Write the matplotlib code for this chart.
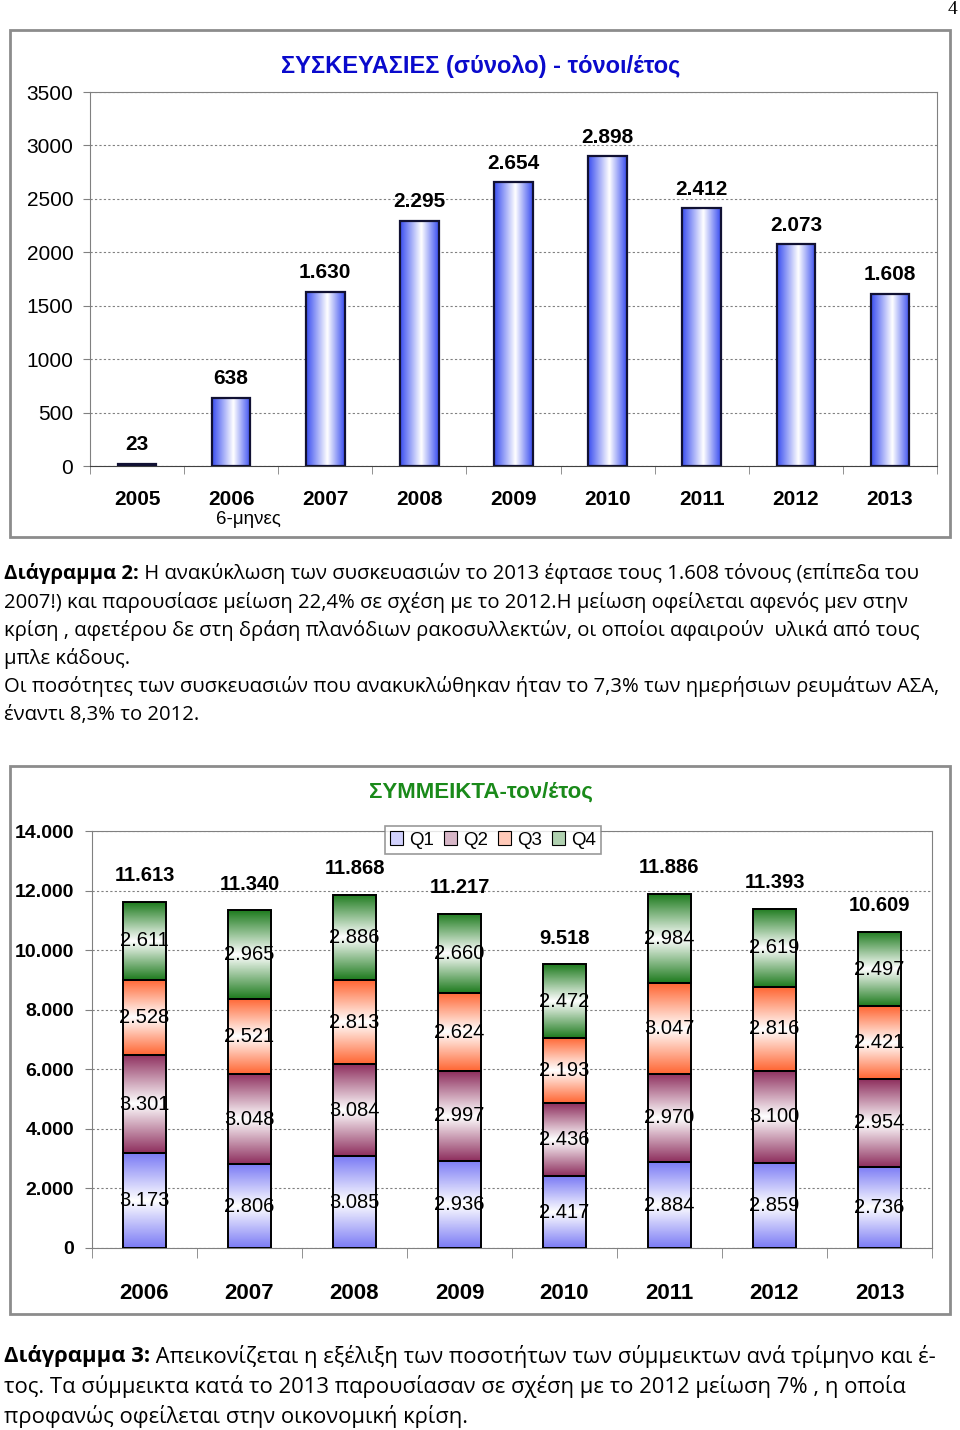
import numpy as np
import matplotlib
matplotlib.use("Agg")
import matplotlib.pyplot as plt
from matplotlib.colors import LinearSegmentedColormap
from matplotlib.patches import Rectangle, Patch

# --- chart 2 (packaging, tons/year) ---
pack_years = ["2005", "2006", "2007", "2008", "2009", "2010", "2011", "2012", "2013"]
pack_tons = [23, 638, 1630, 2295, 2654, 2898, 2412, 2073, 1608]

# --- chart 3 (mixed waste per quarter, tons/year) ---
mixed_years = ["2006", "2007", "2008", "2009", "2010", "2011", "2012", "2013"]
q1 = [3173, 2806, 3085, 2936, 2417, 2884, 2859, 2736]
q2 = [3301, 3048, 3084, 2997, 2436, 2970, 3100, 2954]
q3 = [2528, 2521, 2813, 2624, 2193, 3047, 2816, 2421]
q4 = [2611, 2965, 2886, 2660, 2472, 2984, 2619, 2497]
mixed_totals = [11613, 11340, 11868, 11217, 9518, 11886, 11393, 10609]
quarter_names = ["Q1", "Q2", "Q3", "Q4"]
quarter_colors = ["#7b7bf5", "#8e2f5e", "#ff6633", "#1e7b1e"]

caption2 = [
    ("Διάγραμμα 2:", " Η ανακύκλωση των συσκευασιών το 2013 έφτασε τους 1.608 τόνους (επίπεδα του"),
    ("", "2007!) και παρουσίασε μείωση 22,4% σε σχέση με το 2012.Η μείωση οφείλεται αφενός μεν στην"),
    ("", "κρίση , αφετέρου δε στη δράση πλανόδιων ρακοσυλλεκτών, οι οποίοι αφαιρούν  υλικά από τους"),
    ("", "μπλε κάδους."),
    ("", "Οι ποσότητες των συσκευασιών που ανακυκλώθηκαν ήταν το 7,3% των ημερήσιων ρευμάτων ΑΣΑ,"),
    ("", "έναντι 8,3% το 2012."),
]
caption3 = [
    ("Διάγραμμα 3:", " Απεικονίζεται η εξέλιξη των ποσοτήτων των σύμμεικτων ανά τρίμηνο και έ-"),
    ("", "τος. Τα σύμμεικτα κατά το 2013 παρουσίασαν σε σχέση με το 2012 μείωση 7% , η οποία"),
    ("", "προφανώς οφείλεται στην οικονομική κρίση."),
]

W, H = 960, 1430
ARIAL = ["Liberation Sans", "DejaVu Sans"]
BODY = ["Open Sans", "Noto Sans", "DejaVu Sans"]


def fx(px):
    return px / W


def fy(py):
    return 1 - py / H


def fmt(v):
    return f"{v:,}".replace(",", ".")


def gradient_fill(ax, bar, color, vertical, mid=0.5):
    # paint a dark-white-dark gradient inside the bar rectangle
    x0, y0 = bar.get_x(), bar.get_y()
    w, h = bar.get_width(), bar.get_height()
    cmap = LinearSegmentedColormap.from_list("g", [(0, color), (mid, "white"), (1, color)])
    ramp = np.linspace(0, 1, 200)
    arr = ramp.reshape(-1, 1) if vertical else ramp.reshape(1, -1)
    ax.imshow(arr, cmap=cmap, extent=[x0, x0 + w, y0, y0 + h], origin="lower",
              aspect="auto", zorder=2, interpolation="bilinear")


fig = plt.figure(figsize=(9.6, 14.3), dpi=100)

# outer frames
for top, bottom in [(30, 537), (766, 1314)]:
    fig.add_artist(Rectangle((fx(10), fy(bottom)), fx(940), (bottom - top) / H,
                             transform=fig.transFigure, fill=False,
                             edgecolor="#8c8c8c", lw=2))

fig.text(fx(957), fy(9), "4", family=["Liberation Serif"], fontsize=14, ha="right", va="center")

# ---------------- chart 1 ----------------
ax1 = fig.add_axes([fx(90), fy(466), fx(937 - 90), (466 - 92) / H])
x1 = np.arange(len(pack_years))
bars1 = ax1.bar(x1, pack_tons, width=0.41, facecolor="none", edgecolor="#111133", lw=1.6, zorder=3)
for b in bars1:
    gradient_fill(ax1, b, "#3a4ef0", vertical=False, mid=0.55)
for xi, v in zip(x1, pack_tons):
    ax1.annotate(fmt(v), (xi, v), xytext=(0, 7), textcoords="offset points",
                 ha="center", va="bottom", fontsize=15, fontweight="bold", family=ARIAL)
ax1.set_xlim(-0.5, len(pack_years) - 0.5)
ax1.set_ylim(0, 3500)
ax1.set_yticks(np.arange(0, 3501, 500))
ax1.set_yticklabels([str(t) for t in range(0, 3501, 500)], fontsize=15, family=ARIAL)
ax1.set_xticks(x1)
ax1.set_xticklabels(pack_years, fontsize=15, fontweight="bold", family=ARIAL)
ax1.set_xticks(np.arange(-0.5, len(pack_years)), minor=True)
ax1.tick_params(axis="x", which="major", length=0, pad=17)
ax1.tick_params(axis="x", which="minor", length=6, color="#808080")
ax1.tick_params(axis="y", length=5, color="#808080", pad=7)
ax1.grid(axis="y", color="#808080", linestyle=(0, (2, 2)), lw=0.8, zorder=0)
for s in ["left", "top", "right"]:
    ax1.spines[s].set_color("#808080")
ax1.spines["bottom"].set_color("#404040")
ax1.text(1.18, -0.142, "6-μηνες", transform=ax1.get_xaxis_transform(), ha="center",
         va="center", fontsize=13.5, family=ARIAL)
fig.text(fx(481), fy(66), "ΣΥΣΚΕΥΑΣΙΕΣ (σύνολο) - τόνοι/έτος", color="#0a0acc",
         fontsize=17, fontweight="bold", family=ARIAL, ha="center", va="center")

# ---------------- chart 2 ----------------
ax2 = fig.add_axes([fx(92), fy(1248), fx(932 - 92), (1248 - 831) / H])
x2 = np.arange(len(mixed_years))
bottom = np.zeros(len(mixed_years))
for name, vals, col in zip(quarter_names, [q1, q2, q3, q4], quarter_colors):
    bars = ax2.bar(x2, vals, bottom=bottom, width=0.41, facecolor="none",
                   edgecolor="black", lw=1.4, zorder=3)
    for b in bars:
        gradient_fill(ax2, b, col, vertical=True)
    for xi, v, b0 in zip(x2, vals, bottom):
        ax2.text(xi, b0 + v / 2, fmt(v), ha="center", va="center", fontsize=14.5,
                 family=ARIAL, zorder=4)
    bottom = bottom + np.array(vals)
for xi, tot, top in zip(x2, mixed_totals, bottom):
    ax2.annotate(fmt(tot), (xi, top), xytext=(0, 12), textcoords="offset points",
                 ha="center", va="bottom", fontsize=14.5, fontweight="bold", family=ARIAL)
ax2.set_xlim(-0.5, len(mixed_years) - 0.5)
ax2.set_ylim(0, 14000)
yt = np.arange(0, 14001, 2000)
ax2.set_yticks(yt)
ax2.set_yticklabels([fmt(t) for t in yt], fontsize=14, fontweight="bold", family=ARIAL)
ax2.set_xticks(x2)
ax2.set_xticklabels(mixed_years, fontsize=16, fontweight="bold", family=ARIAL)
ax2.set_xticks(np.arange(-0.5, len(mixed_years)), minor=True)
ax2.tick_params(axis="x", which="major", length=0, pad=25)
ax2.tick_params(axis="x", which="minor", length=7, color="#808080")
ax2.tick_params(axis="y", length=5, color="#808080", pad=8)
ax2.grid(axis="y", color="#808080", linestyle=(0, (2, 2)), lw=0.8, zorder=0)
for s in ["left", "top", "right", "bottom"]:
    ax2.spines[s].set_color("#808080")
fig.text(fx(481), fy(792), "ΣΥΜΜΕΙΚΤΑ-τον/έτος", color="#1a8a1a", fontsize=16,
         fontweight="bold", family=ARIAL, ha="center", va="center")
handles = [Patch(facecolor=(np.array(matplotlib.colors.to_rgb(c)) * 0.35 + 0.65),
                 edgecolor="black", lw=0.8) for c in quarter_colors]
leg = ax2.legend(handles, quarter_names, loc="center", ncol=4,
                 bbox_to_anchor=(fx(493), fy(840)), bbox_transform=fig.transFigure,
                 prop={"family": ARIAL, "size": 13.5}, frameon=True, fancybox=False,
                 edgecolor="#808080", handlelength=0.7, handleheight=0.7,
                 handletextpad=0.3, columnspacing=0.55, borderpad=0.3)
leg.get_frame().set_linewidth(1.2)
leg.set_zorder(6)

# ---------------- captions ----------------
renderer = fig.canvas.get_renderer()


def caption(lines, y_start, step, size):
    for i, (bold, rest) in enumerate(lines):
        y = fy(y_start + i * step)
        x = fx(4)
        if bold:
            t = fig.text(x, y, bold, fontsize=size, fontweight="bold", family=BODY, va="center")
            bb = t.get_window_extent(renderer=renderer)
            x = bb.x1 / W
        fig.text(x, y, rest, fontsize=size, family=BODY, va="center")


caption(caption2, 574, 28.2, 14.6)
caption(caption3, 1356, 30.5, 15.8)

fig.savefig("out.png", dpi=100)
